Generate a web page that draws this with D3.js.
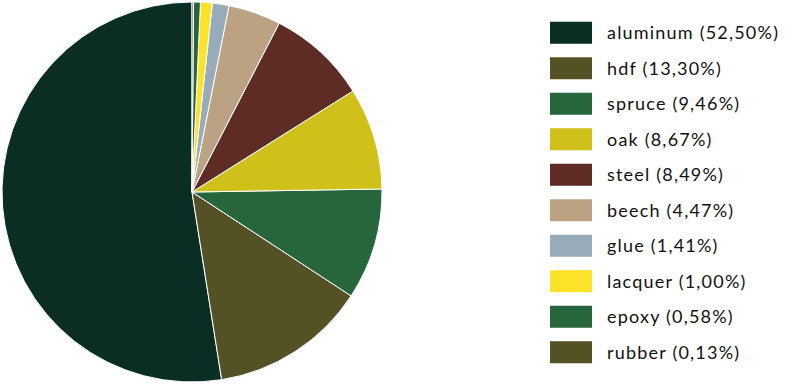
<!DOCTYPE html>
<html>
<head>
<meta charset="utf-8">
<script src="https://cdn.jsdelivr.net/npm/d3@7"></script>
<style>
  body { margin: 0; background: #fff; }
  svg { display: block; }
</style>
</head>
<body>
<div id="chart"></div>
<script>
// data
const materials = ["aluminum", "hdf", "spruce", "oak", "steel", "beech", "glue", "lacquer", "epoxy", "rubber"];
const shares = [52.50, 13.30, 9.46, 8.67, 8.49, 4.47, 1.41, 1.00, 0.58, 0.13];
const colors = ["#0b2e24", "#545124", "#27653c", "#d0c01a", "#5e2c24", "#bba283", "#97acb8", "#fde22a", "#27653c", "#545124"];

const width = 785, height = 384;
const cx = 192, cy = 192, radius = 190;

const svg = d3.select("#chart").append("svg")
  .attr("width", width)
  .attr("height", height);

const rows = materials.map((m, i) => ({ name: m, value: shares[i], color: colors[i] }));

// counter-clockwise from 12 o'clock
const pie = d3.pie()
  .value(d => d.value)
  .sort(null)
  .startAngle(0)
  .endAngle(-2 * Math.PI);

const arc = d3.arc().innerRadius(0).outerRadius(radius);

svg.append("g")
  .attr("transform", `translate(${cx},${cy})`)
  .selectAll("path")
  .data(pie(rows))
  .join("path")
  .attr("d", arc)
  .attr("fill", d => d.data.color)
  .attr("stroke", "#fff")
  .attr("stroke-width", 1);

// legend
const yLegend = d3.scaleBand()
  .domain(materials)
  .range([15, 370]);

const fmt = v => d3.format(".2f")(v).replace(".", ",");

const legend = svg.append("g").selectAll("g")
  .data(rows)
  .join("g")
  .attr("transform", d => `translate(550,${yLegend(d.name) + yLegend.bandwidth() / 2})`);

legend.append("rect")
  .attr("x", 0)
  .attr("y", -11)
  .attr("width", 42)
  .attr("height", 22)
  .attr("fill", d => d.color);

legend.append("text")
  .attr("x", 57)
  .attr("dy", "0.35em")
  .attr("font-family", "Lato, sans-serif")
  .attr("font-size", 18)
  .attr("letter-spacing", 1.2)
  .attr("fill", "#111")
  .text(d => `${d.name} (${fmt(d.value)}%)`);
</script>
</body>
</html>
